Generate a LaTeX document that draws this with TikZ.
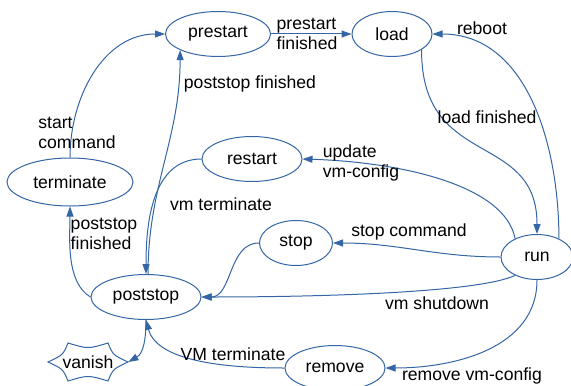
\documentclass[tikz,border=0pt]{standalone}
\usepackage{fontspec}
\setmainfont{Liberation Sans}
\usetikzlibrary{shapes.geometric}
\usetikzlibrary{arrows.meta}
\definecolor{linec}{RGB}{52,101,164}
\tikzset{st/.style={ellipse,draw=linec,line width=0.5pt,inner sep=0pt,minimum height=22.5pt,font=\fontsize{8.8}{10.2}\selectfont}}
\tikzset{lb/.style={inner sep=0pt,align=left,font=\fontsize{8.8}{10.2}\selectfont}}
\tikzset{tr/.style={draw=linec,line width=0.5pt,-{Triangle[length=5pt,width=3.5pt]}}}

\begin{document}
\begin{tikzpicture}[x=0.5pt,y=-0.5pt]
  \useasboundingbox (0,0) rectangle (571,385);
  % states
  \node[st,minimum width=52.5pt] (prestart) at (218,34) {prestart};
  \node[st,minimum width=40pt] (load) at (392,34) {load};
  \node[st,minimum width=63pt,minimum height=24pt] (terminate) at (70,182) {terminate};
  \node[st,minimum width=50pt] (restart) at (252,159) {restart};
  \node[st,minimum width=36.5pt] (stop) at (296,243) {stop};
  \node[st,minimum width=36pt] (run) at (537,257) {run};
  \node[st,minimum width=55pt] (poststop) at (146,297) {poststop};
  \node[st,minimum width=50pt] (remove) at (335,368) {remove};
  \node[lb,minimum width=40pt] (vanish) at (88,362) {vanish};
  \draw[linec,line width=0.5pt,shift={(vanish.center)}]
    (-40,0) .. controls (-25,-7) .. (-20,-19) .. controls (0,-13) .. (20,-19)
    .. controls (25,-7) .. (40,0) .. controls (25,7) .. (20,19)
    .. controls (0,13) .. (-20,19) .. controls (-25,7) .. (-40,0) -- cycle;

  % transitions
  \draw[tr] (terminate.north) to[out=90,in=180] (prestart.west);
  \draw[tr] (poststop.85) to[out=90,in=-90] (prestart.-157);
  \draw[tr] (prestart.east) -- (load.west);
  \draw[tr] (load.-28) .. controls (421,170) and (537,130) .. (run.north);
  \draw[tr] (run.40) to[out=90,in=0] (load.east);
  \draw[tr] (run.140) .. controls (505,185) and (400,162) .. (restart.east);
  \draw[tr] (restart.west) to[out=180,in=90] (poststop.north);
  \draw[tr] (run.west) to[out=180,in=0] (stop.east);
  \draw[tr] (stop.west) to[out=180,in=0] (poststop.east);
  \draw[tr] (run.-140) .. controls (480,292) and (330,297) .. (poststop.east);
  \draw[tr] (poststop.west) to[out=150,in=-90,looseness=0.8] (terminate.south);
  \draw[tr] (remove.west) to[out=180,in=-75,looseness=0.8] (poststop.south);
  \draw[tr] (poststop.south) to[out=-90,in=30] (vanish.east);
  \draw[tr] (run.south) to[out=-90,in=0] (remove.east);

  % labels
  \node[lb] at (77,133) {start\\command};
  \node[lb] at (250,84) {poststop finished};
  \node[lb] at (307,34) {prestart\\finished};
  \node[lb] at (482,28) {reboot};
  \node[lb] at (487,117) {load finished};
  \node[lb] at (361,163) {update\\vm-config};
  \node[lb] at (221,204) {vm terminate};
  \node[lb] at (409,232) {stop command};
  \node[lb] at (437,303) {vm shutdown};
  \node[lb] at (104,234) {poststop\\finished};
  \node[lb] at (233,354) {VM terminate};
  \node[lb] at (472,376) {remove vm-config};
\end{tikzpicture}
\end{document}
